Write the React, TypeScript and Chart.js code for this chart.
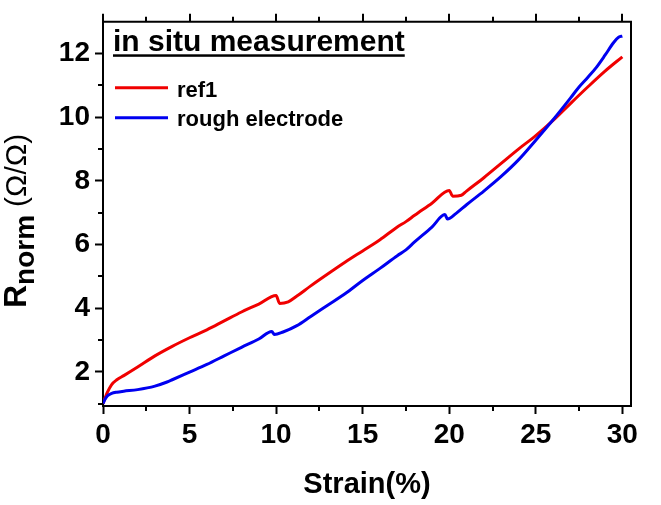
import React, { useEffect, useRef } from 'react';
import { Chart, registerables } from 'chart.js';

Chart.register(...registerables);

// ---- data ----
const strainRef1 = [0, 0.1, 0.25, 0.5, 0.8, 1.2, 2, 3, 4, 5, 6, 7, 8, 9, 10, 10.2, 10.7, 11.2, 12, 13, 14, 15, 16, 17, 17.5, 18, 19, 20, 20.2, 20.7, 21, 22, 23, 24, 25, 26, 27, 28, 29, 30];
const rRef1 = [1.0, 1.15, 1.35, 1.6, 1.75, 1.88, 2.15, 2.5, 2.8, 3.07, 3.32, 3.6, 3.88, 4.13, 4.4, 4.15, 4.2, 4.38, 4.7, 5.08, 5.45, 5.8, 6.15, 6.55, 6.72, 6.92, 7.3, 7.7, 7.52, 7.55, 7.68, 8.1, 8.55, 9.0, 9.42, 9.9, 10.43, 10.95, 11.45, 11.9];

const strainRough = [0, 0.1, 0.25, 0.5, 0.8, 1.2, 2, 3, 3.7, 4, 5, 6, 7, 8, 9, 9.75, 9.9, 10.4, 11.2, 12, 13, 14, 15, 16, 17, 17.5, 18, 19, 19.75, 19.9, 20.4, 21, 22, 23, 24, 25, 26, 27, 27.5, 28, 28.5, 29, 29.5, 29.8, 30];
const rRough = [1.0, 1.12, 1.24, 1.32, 1.36, 1.39, 1.44, 1.55, 1.68, 1.75, 1.99, 2.23, 2.5, 2.77, 3.03, 3.27, 3.17, 3.25, 3.45, 3.74, 4.1, 4.46, 4.87, 5.25, 5.65, 5.83, 6.08, 6.55, 6.94, 6.8, 6.98, 7.25, 7.68, 8.14, 8.66, 9.28, 9.92, 10.6, 10.95, 11.25, 11.57, 11.95, 12.35, 12.52, 12.55];

const seriesNames = ['ref1', 'rough electrode'];
const seriesColors = ['#f00000', '#0000f0'];
const legendTitle = 'in situ measurement';
const xTitle = 'Strain(%)';
const yTitleMain = 'R';
const yTitleSub = 'norm';
const yTitleUnit = '(\u03A9/\u03A9)';

const xMajorTicks = [0, 5, 10, 15, 20, 25, 30];
const xMinorTicks = [2.5, 7.5, 12.5, 17.5, 22.5, 27.5];
const yMajorTicks = [2, 4, 6, 8, 10, 12];
const yMinorTicks = [1, 3, 5, 7, 9, 11];

const FONT = "'Liberation Sans', Arial, Helvetica, sans-serif";

const decorPlugin = {
  id: 'decor',
  afterDraw(chart: any) {
    const { ctx, chartArea: a, scales } = chart;
    const xs = scales.x;
    const ys = scales.y;
    ctx.save();
    ctx.strokeStyle = '#000';
    ctx.fillStyle = '#000';
    ctx.lineWidth = 2;

    // top and right frame
    ctx.beginPath();
    ctx.moveTo(a.left - 1, a.top);
    ctx.lineTo(a.right, a.top);
    ctx.lineTo(a.right, a.bottom + 1);
    ctx.stroke();

    // top ticks (major + minor), minor ticks on bottom and left
    ctx.beginPath();
    xMajorTicks.forEach((v) => {
      const px = Math.round(xs.getPixelForValue(v));
      ctx.moveTo(px, a.top);
      ctx.lineTo(px, a.top - 8);
    });
    xMinorTicks.forEach((v) => {
      const px = Math.round(xs.getPixelForValue(v));
      ctx.moveTo(px, a.top);
      ctx.lineTo(px, a.top - 5);
      ctx.moveTo(px, a.bottom);
      ctx.lineTo(px, a.bottom + 5);
    });
    yMinorTicks.forEach((v) => {
      const py = Math.round(ys.getPixelForValue(v));
      ctx.moveTo(a.left, py);
      ctx.lineTo(a.left - 5, py);
    });
    ctx.stroke();

    // legend block
    ctx.textAlign = 'left';
    ctx.textBaseline = 'alphabetic';
    ctx.font = `bold 30px ${FONT}`;
    const tx = a.left + 10;
    const ty = a.top + 29;
    ctx.fillText(legendTitle, tx, ty);
    const tw = ctx.measureText(legendTitle).width;
    ctx.fillRect(tx, ty + 3.5, tw, 2.5);

    ctx.font = `bold 22px ${FONT}`;
    const lineY = [a.top + 66, a.top + 96];
    const textY = [a.top + 75.3, a.top + 104.5];
    seriesNames.forEach((name, i) => {
      ctx.strokeStyle = seriesColors[i];
      ctx.lineWidth = 3;
      ctx.beginPath();
      ctx.moveTo(a.left + 12, lineY[i]);
      ctx.lineTo(a.left + 65, lineY[i]);
      ctx.stroke();
      ctx.fillText(name, a.left + 74, textY[i]);
    });

    // x title
    ctx.font = `bold 29px ${FONT}`;
    ctx.textAlign = 'center';
    ctx.fillText(xTitle, (a.left + a.right) / 2, a.bottom + 87);

    // y title (rotated, with subscript)
    ctx.translate(26, 308);
    ctx.rotate(-Math.PI / 2);
    ctx.textAlign = 'left';
    ctx.font = `bold 32px ${FONT}`;
    ctx.fillText(yTitleMain, 0, 0);
    const w1 = ctx.measureText(yTitleMain).width;
    ctx.font = `bold 28px ${FONT}`;
    ctx.fillText(yTitleSub, w1, 8);
    const w2 = ctx.measureText(yTitleSub).width;
    ctx.font = `30px ${FONT}`;
    ctx.fillText(yTitleUnit, w1 + w2 + 8, 0);

    ctx.restore();
  },
};

export default function App() {
  const canvasRef = useRef<HTMLCanvasElement | null>(null);

  useEffect(() => {
    if (!canvasRef.current) return;
    const chart = new Chart(canvasRef.current, {
      type: 'line',
      data: {
        datasets: [
          {
            label: seriesNames[0],
            data: strainRef1.map((x, i) => ({ x, y: rRef1[i] })),
            borderColor: seriesColors[0],
            backgroundColor: seriesColors[0],
            borderWidth: 3,
            pointRadius: 0,
            cubicInterpolationMode: 'monotone',
            order: 1,
          },
          {
            label: seriesNames[1],
            data: strainRough.map((x, i) => ({ x, y: rRough[i] })),
            borderColor: seriesColors[1],
            backgroundColor: seriesColors[1],
            borderWidth: 3,
            pointRadius: 0,
            cubicInterpolationMode: 'monotone',
            order: 0,
          },
        ],
      },
      options: {
        animation: false,
        responsive: true,
        maintainAspectRatio: false,
        layout: { padding: { top: 19, right: 30, left: 0, bottom: 0 } },
        plugins: {
          legend: { display: false },
          tooltip: { enabled: false },
        },
        scales: {
          x: {
            type: 'linear',
            min: 0,
            max: 30.5,
            afterBuildTicks: (s: any) => {
              s.ticks = xMajorTicks.map((v) => ({ value: v }));
            },
            afterFit: (s: any) => {
              s.height = 99;
            },
            grid: {
              drawOnChartArea: false,
              drawTicks: true,
              tickLength: 8,
              tickWidth: 2,
              tickColor: '#000',
            },
            border: { display: true, color: '#000', width: 2 },
            ticks: {
              color: '#000',
              padding: 4,
              maxRotation: 0,
              autoSkip: false,
              font: { family: FONT, size: 28, weight: 'bold' },
            },
          },
          y: {
            type: 'linear',
            min: 0.925,
            max: 13.0,
            afterBuildTicks: (s: any) => {
              s.ticks = yMajorTicks.map((v) => ({ value: v }));
            },
            afterFit: (s: any) => {
              s.width = 103;
            },
            grid: {
              drawOnChartArea: false,
              drawTicks: true,
              tickLength: 8,
              tickWidth: 2,
              tickColor: '#000',
            },
            border: { display: true, color: '#000', width: 2 },
            ticks: {
              color: '#000',
              padding: 5,
              autoSkip: false,
              font: { family: FONT, size: 28, weight: 'bold' },
            },
          },
        },
      },
      plugins: [decorPlugin],
    });
    return () => chart.destroy();
  }, []);

  return (
    <div style={{ position: 'absolute', left: 0, top: 0, width: 661, height: 505, background: '#fff' }}>
      <canvas ref={canvasRef} />
    </div>
  );
}
